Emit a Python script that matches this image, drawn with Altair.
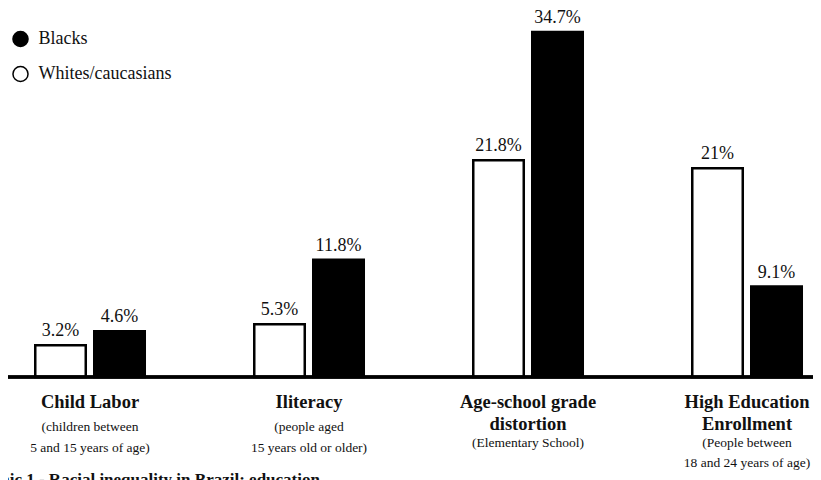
import altair as alt
import pandas as pd

SERIF = "Liberation Serif"

categories = ["Child Labor", "Iliteracy", "Age-school grade distortion", "High Education Enrollment"]
groups = ["Whites/caucasians", "Blacks"]
whites = [3.2, 5.3, 21.8, 21]
blacks = [4.6, 11.8, 34.7, 9.1]
titles = ["Child Labor", "Iliteracy", "Age-school grade\ndistortion", "High Education\nEnrollment"]
subtitles = [
    "(children between\n5 and 15 years of age)",
    "(people aged\n15 years old or older)",
    "(Elementary School)",
    "(People between\n18 and 24 years of age)",
]
caption = "Graphic 1 - Racial inequality in Brazil: education"

rows = []
for c, w, b in zip(categories, whites, blacks):
    rows.append({"cat": c, "group": groups[0], "value": w})
    rows.append({"cat": c, "group": groups[1], "value": b})
bars_df = pd.DataFrame(rows)
labels_df = pd.DataFrame({
    "cat": categories,
    "title": titles,
    "sub": subtitles,
    "nlines": [t.count("\n") + 1 for t in titles],
})
cap_df = pd.DataFrame({"t": [caption]})

W, H = 805, 472
xscale = alt.Scale(domain=categories, paddingInner=0.5, paddingOuter=0.0879, align=0.708)
yscale = alt.Scale(domain=[-10.362, 37.12], nice=False, zero=False)
offscale = alt.Scale(domain=groups, paddingInner=0.144, paddingOuter=0)
fillscale = alt.Scale(domain=["Blacks", "Whites/caucasians"], range=["#000000", "#ffffff"])

X = alt.X("cat:N", scale=xscale, axis=None)
XO = alt.XOffset("group:N", scale=offscale)
Y = alt.Y("value:Q", scale=yscale, axis=None)

bars = alt.Chart(bars_df).mark_bar(stroke="#000000", strokeWidth=2.5).encode(
    x=X,
    xOffset=XO,
    y=Y,
    y2=alt.datum(0),
    fill=alt.Fill(
        "group:N",
        scale=fillscale,
        legend=alt.Legend(
            title=None,
            orient="none",
            legendX=3.5,
            legendY=22,
            symbolType="circle",
            symbolSize=227,
            symbolStrokeColor="#000000",
            symbolStrokeWidth=1.5,
            labelFont=SERIF,
            labelFontSize=18,
            labelColor="#111111",
            rowPadding=13,
            labelOffset=9,
            padding=0,
        ),
    ),
)

vals = alt.Chart(bars_df).transform_calculate(
    lbl="datum.value + '%'"
).mark_text(baseline="alphabetic", dy=-9, font=SERIF, fontSize=18, color="#111111").encode(
    x=X, xOffset=XO, y=Y, text="lbl:N"
)

axis_line = alt.Chart(bars_df).mark_rule(color="#000000", strokeWidth=2.5).encode(
    y=alt.datum(0)
)

title_txt = alt.Chart(labels_df).mark_text(
    font=SERIF, fontSize=18.5, fontWeight="bold", baseline="top",
    lineBreak="\n", lineHeight=22, color="#111111"
).encode(x=X, y=alt.value(385.4), text="title:N")

sub1 = alt.Chart(labels_df).transform_filter("datum.nlines == 1").mark_text(
    font=SERIF, fontSize=13.5, baseline="top", lineBreak="\n", lineHeight=21, color="#111111"
).encode(x=X, y=alt.value(412.3), text="sub:N")

sub2 = alt.Chart(labels_df).transform_filter("datum.nlines == 2").mark_text(
    font=SERIF, fontSize=13.5, baseline="top", lineBreak="\n", lineHeight=20, color="#111111"
).encode(x=X, y=alt.value(428.3), text="sub:N")

cap = alt.Chart(cap_df).mark_text(
    align="left", baseline="alphabetic", font=SERIF, fontSize=17, fontWeight="bold", color="#111111"
).encode(x=alt.value(-46.5), y=alt.value(477), text="t:N")

chart = alt.layer(bars, vals, axis_line, title_txt, sub1, sub2, cap).properties(
    width=W,
    height=H,
    autosize=alt.AutoSizeParams(type="none"),
    padding={"left": 0, "top": 0, "right": 0, "bottom": 0},
).configure_view(stroke=None)

chart.save("out.html", embed_options={"renderer": "svg", "actions": False})
